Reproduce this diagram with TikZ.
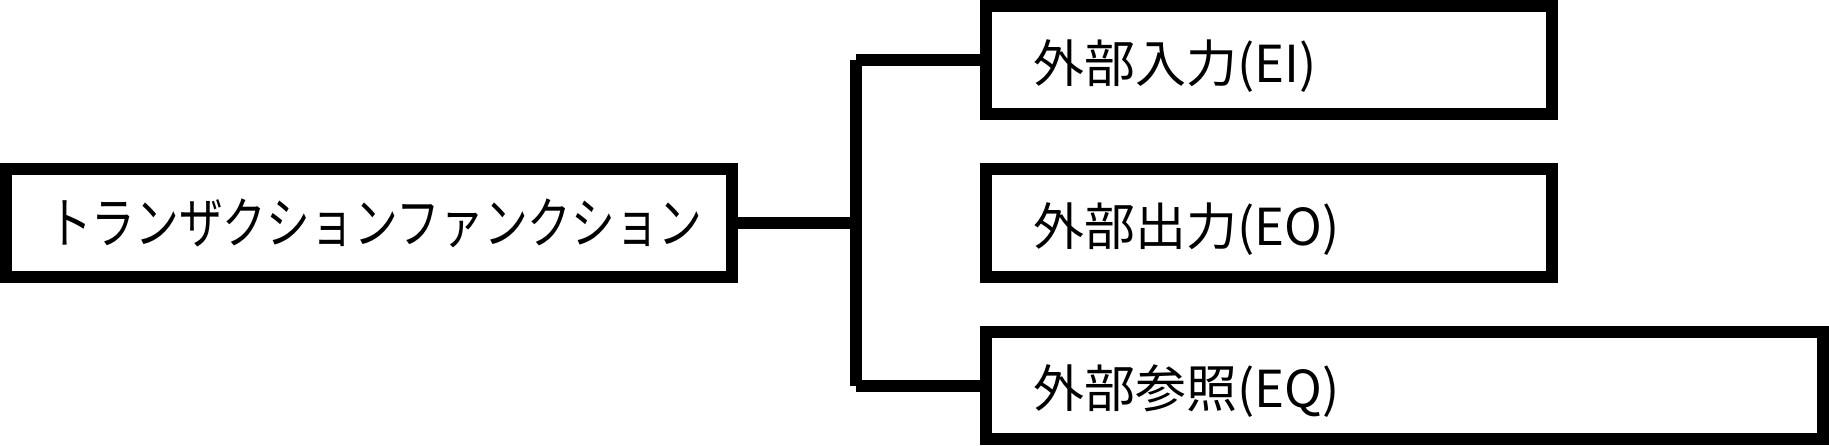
\documentclass[tikz,border=0pt]{standalone}
\usepackage{fontspec}
\setmainfont{Noto Sans CJK JP}
\newfontfamily\kanafont[FakeStretch=0.79]{Noto Sans CJK JP}
\tikzset{funcbox/.style={draw, line width=0.24cm, minimum height=2.16cm, align=left, inner ysep=0pt},
	kanjibox/.style={funcbox, text height=25.5pt, text depth=-1.1pt, inner xsep=0.96cm}}
\begin{document}
\begin{tikzpicture}[x=0.02cm, y=-0.02cm, font=\fontsize{29}{34}\selectfont, line join=miter, line cap=butt]
	\useasboundingbox (0,0) rectangle (1829,446);
	\coordinate (T) at (369,223);
	\coordinate (I) at (1268.8,60.25);
	\coordinate (O) at (1268.8,223);
	\coordinate (Q) at (1404.3,385.5);
	\node[funcbox, text width=12.84cm, inner xsep=0.84cm] (tf) at (T) {\kanafont\fontsize{31.5}{36}\selectfont トランザクションファンクション};
	\node[kanjibox, text width=9.41cm] (ei) at (I) {外部入力(EI)};
	\node[kanjibox, text width=9.41cm] (eo) at (O) {外部出力(EO)};
	\node[kanjibox, text width=14.83cm] (eq) at (Q) {外部参照(EQ)};
	\coordinate (J) at (856,223);
	\coordinate (JT) at (856,60.25);
	\coordinate (JB) at (856,385.5);
	\draw[line width=0.24cm] (tf.east)--(J);
	\draw[line width=0.24cm] (JT)--(JB);
	\draw[line width=0.24cm] (JT)--(ei.west);
	\draw[line width=0.24cm] (JB)--(eq.west);
\end{tikzpicture}
\end{document}
